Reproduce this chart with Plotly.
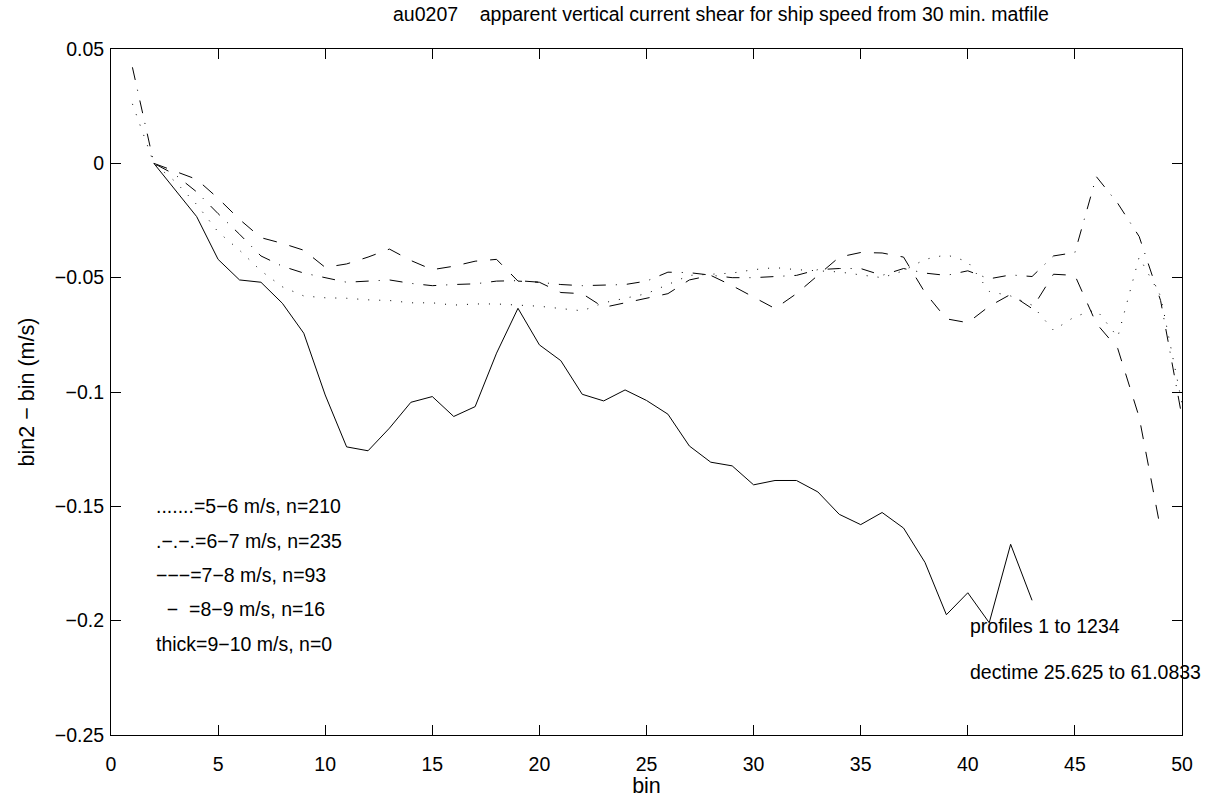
import plotly.graph_objects as go

# bin numbers along the profile
bins = list(range(1, 51))

# apparent shear (bin2 - bin, m/s) per ship-speed class
shear_5_6 = [0.026, 0, -0.008, -0.018, -0.030, -0.038, -0.047, -0.054, -0.058, -0.0588,
             -0.059, -0.0597, -0.060, -0.061, -0.061, -0.062, -0.0615, -0.0615, -0.062, -0.0625,
             -0.0635, -0.0645, -0.061, -0.059, -0.057, -0.053, -0.049, -0.0485, -0.048, -0.0465,
             -0.0456, -0.0465, -0.047, -0.0475, -0.0488, -0.050, -0.047, -0.042, -0.040, -0.043,
             -0.056, -0.058, -0.062, -0.073, -0.067, -0.064, -0.076, -0.041, -0.058, -0.105]

shear_6_7 = [0.042, 0, -0.005, -0.0125, -0.022, -0.031, -0.0405, -0.045, -0.048, -0.050,
             -0.052, -0.0515, -0.051, -0.0525, -0.0535, -0.053, -0.0527, -0.0515, -0.0513, -0.052,
             -0.053, -0.0535, -0.0533, -0.053, -0.0515, -0.0476, -0.0478, -0.049, -0.050, -0.050,
             -0.0495, -0.049, -0.0465, -0.046, -0.046, -0.049, -0.046, -0.048, -0.049, -0.047,
             -0.0505, -0.0488, -0.0495, -0.0405, -0.039, -0.0058, -0.0175, -0.032, -0.060, -0.111]

shear_7_8 = [None, 0, -0.0035, -0.007, -0.0153, -0.0245, -0.0325, -0.035, -0.038, -0.0455,
             -0.044, -0.041, -0.0375, -0.0425, -0.0465, -0.045, -0.0428, -0.042, -0.0515, -0.052,
             -0.0565, -0.057, -0.063, -0.061, -0.059, -0.057, -0.051, -0.049, -0.0535, -0.0585,
             -0.0635, -0.057, -0.049, -0.041, -0.039, -0.0392, -0.041, -0.0565, -0.068, -0.0697,
             -0.0625, -0.0573, -0.0635, -0.0485, -0.049, -0.070, -0.081, -0.111, -0.160, None]

shear_8_9 = [None, 0, -0.0117, -0.0233, -0.042, -0.051, -0.052, -0.0612, -0.0743, -0.1013,
             -0.124, -0.1257, -0.1158, -0.1045, -0.102, -0.1107, -0.1064, -0.083, -0.0634, -0.0794,
             -0.0863, -0.101, -0.1039, -0.0991, -0.1037, -0.1097, -0.1236, -0.1307, -0.1323, -0.1406,
             -0.1387, -0.1387, -0.1437, -0.1535, -0.158, -0.1527, -0.1595, -0.1745, -0.1974, -0.1878,
             -0.2009, -0.1666, -0.1911, None, None, None, None, None, None, None]

# key text drawn inside the axes
key_lines = [
    ".......=5\u22126 m/s, n=210",
    ".\u2212.\u2212.=6\u22127 m/s, n=235",
    "\u2212\u2212\u2212=7\u22128 m/s, n=93",
    "\u00a0\u00a0\u2212\u00a0\u00a0=8\u22129 m/s, n=16",
    "thick=9\u221210 m/s, n=0",
]
key_y = [-0.15, -0.165, -0.18, -0.195, -0.21]

info_lines = ["profiles 1 to 1234", "dectime 25.625 to 61.0833"]
info_y = [-0.2025, -0.2225]

x_ticks = [0, 5, 10, 15, 20, 25, 30, 35, 40, 45, 50]
y_ticks = [0.05, 0, -0.05, -0.1, -0.15, -0.2, -0.25]
y_tick_text = ["0.05", "0", "\u22120.05", "\u22120.1", "\u22120.15", "\u22120.2", "\u22120.25"]

FONT = "Liberation Sans, Arial, Helvetica, sans-serif"
TXT = 19.5     # tick labels, key text, title
LBL = 21.5     # axis titles

fig = go.Figure()

styles = [
    (shear_5_6, "1px,10px"),
    (shear_6_7, "13px,10px,1px,10px"),
    (shear_7_8, "14px,13px"),
    (shear_8_9, "solid"),
]
for ys, dash in styles:
    fig.add_trace(go.Scatter(
        x=bins, y=ys, mode="lines",
        line=dict(color="black", width=1, dash=dash),
        connectgaps=False, showlegend=False, hoverinfo="skip",
    ))

for txt, yv in zip(key_lines, key_y):
    fig.add_annotation(x=2, y=yv, xref="x", yref="y", text=txt, showarrow=False,
                       xanchor="left", yanchor="middle",
                       font=dict(family=FONT, size=TXT, color="black"))

for txt, yv in zip(info_lines, info_y):
    fig.add_annotation(x=40, y=yv, xref="x", yref="y", text=txt, showarrow=False,
                       xanchor="left", yanchor="middle",
                       font=dict(family=FONT, size=TXT, color="black"))

axis_common = dict(
    showline=True, linecolor="black", linewidth=1, mirror="ticks",
    ticks="inside", ticklen=10, tickcolor="black", tickwidth=1,
    showgrid=False, zeroline=False, automargin=False,
    tickfont=dict(family=FONT, size=TXT, color="black"),
)

fig.update_xaxes(range=[0, 50], tickvals=x_ticks, ticklabelstandoff=12,
                 title=dict(text="bin", font=dict(family=FONT, size=LBL, color="black"), standoff=8),
                 **axis_common)
fig.update_yaxes(range=[-0.25, 0.05], tickvals=y_ticks, ticktext=y_tick_text, ticklabelstandoff=2,
                 title=dict(text="bin2 \u2212 bin (m/s)", font=dict(family=FONT, size=LBL, color="black"), standoff=14),
                 **axis_common)

fig.update_layout(
    width=1212, height=798,
    margin=dict(l=111, r=30, t=49, b=63, autoexpand=False),
    paper_bgcolor="white", plot_bgcolor="white",
    title=dict(
        text="au0207\u00a0\u00a0\u00a0\u00a0apparent vertical current shear for ship speed from 30 min. matfile",
        x=393 / 1212, xanchor="left", y=1 - 14 / 798, yanchor="middle",
        font=dict(family=FONT, size=TXT, color="black"),
    ),
)

fig.write_html("out.html")
